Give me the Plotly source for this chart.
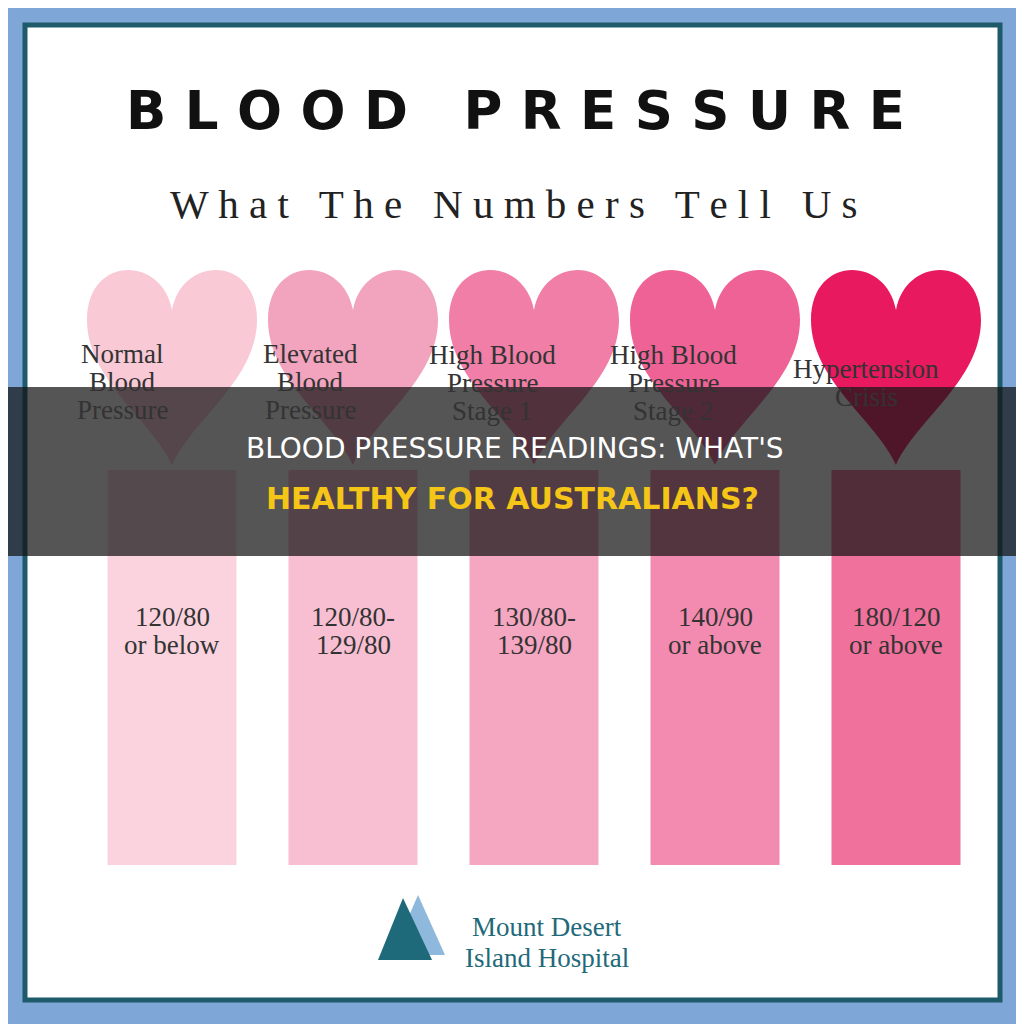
import plotly.graph_objects as go

categories = [["Normal", "Blood", "Pressure"], ["Elevated", "Blood", "Pressure"],
              ["High Blood", "Pressure", "Stage 1"], ["High Blood", "Pressure", "Stage 2"],
              ["Hypertension", "Crisis"]]
readings = [["120/80", "or below"], ["120/80-", "129/80"], ["130/80-", "139/80"],
            ["140/90", "or above"], ["180/120", "or above"]]
centers = [172, 353, 534, 715, 896]
label_x = [122, 310, 492, 673, 866]
label_y = [354, 354, 355, 355, 369]
bar_colors = ["#fbd3de", "#f7bfd1", "#f5a6c1", "#f38bb1", "#f0719c"]
heart_colors = ["#f9c9d6", "#f2a3bd", "#f07ea6", "#ee6296", "#e8195e"]

fig = go.Figure()
fig.add_trace(go.Bar(x=centers, y=[395] * 5, base=[470] * 5, width=129,
                     marker=dict(color=bar_colors, line=dict(width=0)),
                     hoverinfo="skip"))

shapes = [
    dict(type="rect", x0=-20, x1=1050, y0=-20, y1=1050, fillcolor="#7ea6d6", line_width=0, layer="below"),
    dict(type="rect", x0=25, x1=1000, y0=25, y1=1000, fillcolor="white",
         line=dict(color="#1d5a6a", width=5), layer="below"),
]
for cx, col in zip(centers, heart_colors):
    t, b, w = 265, 465, 85
    path = (f"M {cx},{t+45} C {cx-10},{t-10} {cx-w},{t-10} {cx-w},{t+55} "
            f"C {cx-w},{t+115} {cx-20},{b-45} {cx},{b} "
            f"C {cx+20},{b-45} {cx+w},{t+115} {cx+w},{t+55} "
            f"C {cx+w},{t-10} {cx+10},{t-10} {cx},{t+45} Z")
    shapes.append(dict(type="path", path=path, fillcolor=col, line_width=0, layer="below"))

shapes.append(dict(type="rect", x0=-20, x1=1050, y0=387, y1=556,
                   fillcolor="rgba(20,20,20,0.72)", line_width=0, layer="above"))
shapes.append(dict(type="path", path="M 418,895 L 445,955 L 392,955 Z", fillcolor="#8fb8dd", line_width=0))
shapes.append(dict(type="path", path="M 403,898 L 432,960 L 378,960 Z", fillcolor="#1f6a7a", line_width=0))

ann = [
    dict(x=515, y=110, text="<b>B L O O D   P R E S S U R E</b>",
         font=dict(size=53, color="#111", family="DejaVu Sans")),
    dict(x=513, y=204, text="W h a t   T h e   N u m b e r s   T e l l   U s",
         font=dict(size=41, color="#222", family="Liberation Serif")),
    dict(x=515, y=448, text="BLOOD PRESSURE READINGS: WHAT'S",
         font=dict(size=28, color="white", family="DejaVu Sans")),
    dict(x=512, y=498, text="<b>HEALTHY FOR AUSTRALIANS?</b>",
         font=dict(size=30, color="#f5c518", family="DejaVu Sans")),
    dict(x=547, y=927, text="Mount Desert", font=dict(size=27, color="#1f6a7a", family="Liberation Serif")),
    dict(x=547, y=958, text="Island Hospital", font=dict(size=27, color="#1f6a7a", family="Liberation Serif")),
]
for cx, lx, ly, c, r in zip(centers, label_x, label_y, categories, readings):
    for i, line in enumerate(c):
        ann.append(dict(x=lx, y=ly + 28 * i, text=line,
                        font=dict(size=27, color="#333", family="Liberation Serif")))
    for i, line in enumerate(r):
        ann.append(dict(x=cx, y=617 + 28 * i, text=line,
                        font=dict(size=27, color="#333", family="Liberation Serif")))
for a in ann:
    a.update(xref="x", yref="y", showarrow=False)

fig.update_layout(width=1024, height=1024, margin=dict(l=0, r=0, t=0, b=0),
                  plot_bgcolor="white", paper_bgcolor="#7ea6d6", showlegend=False,
                  xaxis=dict(range=[8, 1032], visible=False, fixedrange=True),
                  yaxis=dict(range=[1032, 8], visible=False, fixedrange=True),
                  shapes=shapes, annotations=ann)
fig.write_html("out.html")
